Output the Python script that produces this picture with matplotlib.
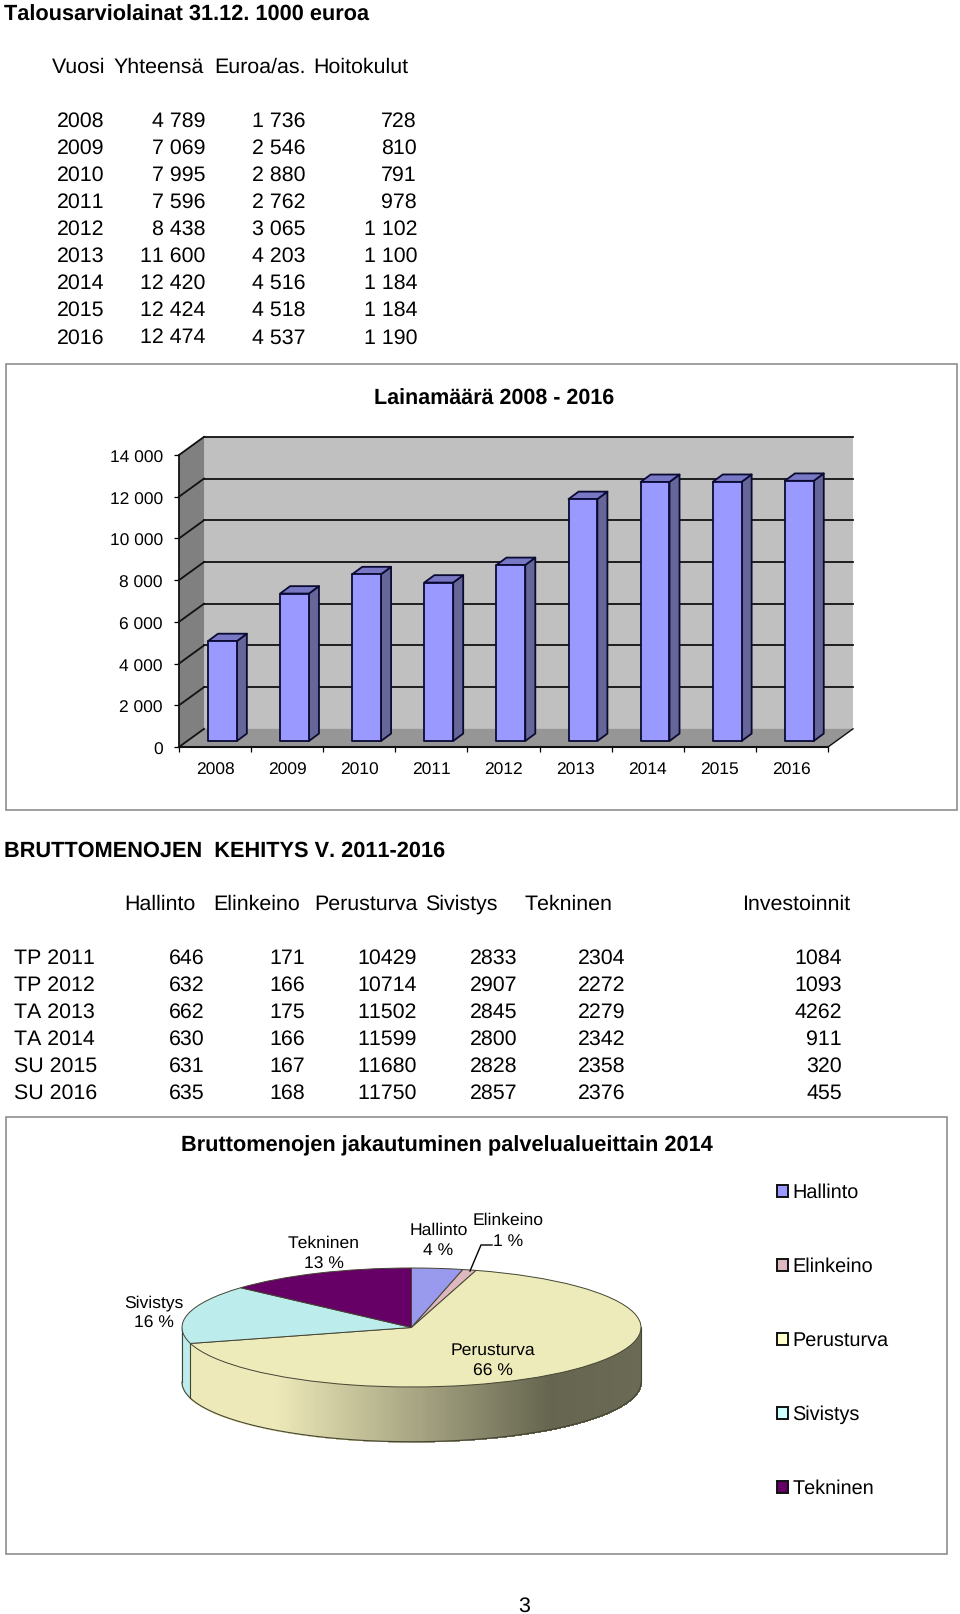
import matplotlib
matplotlib.use('Agg')
import matplotlib.pyplot as plt
import numpy as np
from matplotlib.colors import LinearSegmentedColormap
from matplotlib.patches import Patch, Polygon, Rectangle
from matplotlib.transforms import ScaledTranslation

W, H = 960, 1614
plt.rcParams['font.family'] = ['Liberation Sans', 'DejaVu Sans']
plt.rcParams['text.kerning_factor'] = 6
plt.rcParams['text.hinting'] = 'no_hinting'

# loan table
years = [2008, 2009, 2010, 2011, 2012, 2013, 2014, 2015, 2016]
yhteensa = [4789, 7069, 7995, 7596, 8438, 11600, 12420, 12424, 12474]
euroa_as = [1736, 2546, 2880, 2762, 3065, 4203, 4516, 4518, 4537]
hoitokulut = [728, 810, 791, 978, 1102, 1100, 1184, 1184, 1190]

# expense table
rows = ['TP 2011', 'TP 2012', 'TA 2013', 'TA 2014', 'SU 2015', 'SU 2016']
hallinto = [646, 632, 662, 630, 631, 635]
elinkeino = [171, 166, 175, 166, 167, 168]
perusturva = [10429, 10714, 11502, 11599, 11680, 11750]
sivistys = [2833, 2907, 2845, 2800, 2828, 2857]
tekninen = [2304, 2272, 2279, 2342, 2358, 2376]
investoinnit = [1084, 1093, 4262, 911, 320, 455]

# pie uses the TA 2014 row
pie_names = ['Hallinto', 'Elinkeino', 'Perusturva', 'Sivistys', 'Tekninen']
pie_values = [630, 166, 11599, 2800, 2342]
pie_colors = ['#9999EE', '#DDB8BE', '#EEEBBB', '#BCECEC', '#660066']
pie_labels = ['Hallinto\n4 %', 'Elinkeino\n1 %', 'Perusturva\n66 %', 'Sivistys\n16 %', 'Tekninen\n13 %']


def spaced(v):
    return f'{v:,}'.replace(',', ' ')


def axes_px(left, top, right, bottom):
    return fig.add_axes([left / W, 1 - bottom / H, (right - left) / W, (bottom - top) / H])


fig = plt.figure(figsize=(W / 100, H / 100), dpi=100)

# page layer, pixel coordinates
page = fig.add_axes([0, 0, 1, 1])
page.set_xlim(0, W)
page.set_ylim(H, 0)
page.axis('off')

TXT = 15.4


def put(x, y, s, ha='left', size=TXT, weight='normal'):
    page.text(x, y + 1.5, s, ha=ha, va='center', fontsize=size, fontweight=weight, color='black', linespacing=1.0)


put(4, 13.5, 'Talousarviolainat 31.12. 1000 euroa', weight='bold', size=15.7)
put(52, 66, 'Vuosi')
put(114, 66, 'Yhteensä')
put(214, 66, 'Euroa/as.')
put(313, 66, 'Hoitokulut')
for i in range(len(years)):
    y = 120 + i * 27.05
    put(104, y, str(years[i]), ha='right')
    put(205, y, spaced(yhteensa[i]), ha='right')
    put(305, y, spaced(euroa_as[i]), ha='right')
    put(417, y, spaced(hoitokulut[i]), ha='right')

put(4, 849.5, 'BRUTTOMENOJEN  KEHITYS V. 2011-2016', weight='bold', size=15.7)
for x, s in zip([124, 213, 314, 425, 525, 742],
                ['Hallinto', 'Elinkeino', 'Perusturva', 'Sivistys', 'Tekninen', 'Investoinnit']):
    put(x, 903, s)
for i in range(len(rows)):
    y = 957 + i * 27.05
    put(14, y, rows[i])
    put(205, y, str(hallinto[i]), ha='right')
    put(305, y, str(elinkeino[i]), ha='right')
    put(417, y, str(perusturva[i]), ha='right')
    put(517, y, str(sivistys[i]), ha='right')
    put(625, y, str(tekninen[i]), ha='right')
    put(842, y, str(investoinnit[i]), ha='right')

put(524, 1604.5, '3', ha='center')

# chart frames
for x0, y0, x1, y1 in [(5.5, 364, 956.5, 810), (5.5, 1116.5, 946.5, 1554)]:
    page.add_patch(Rectangle((x0, y0), x1 - x0, y1 - y0, fc='white', ec='#858585', lw=1.1))

put(494, 397.5, 'Lainamäärä 2008 - 2016', ha='center', size=15.5, weight='bold')

# 3d looking column chart, axes is the front plane
ax = axes_px(179, 455, 828, 747)
ax.patch.set_alpha(0)
ax.set_xlim(-0.5, 8.5)
ax.set_ylim(0, 14000)
for s in ax.spines.values():
    s.set_visible(False)

DX = 0.347
DY = 870
y_ticks = np.arange(0, 14001, 2000)
x_l, x_r = -0.5, 8.5
ax.add_patch(Polygon([(x_l + DX, DY), (x_r + DX, DY), (x_r + DX, 14000 + DY), (x_l + DX, 14000 + DY)],
                     fc='#C0C0C0', ec='none', clip_on=False, zorder=1))
ax.add_patch(Polygon([(x_l, 0), (x_l, 14000), (x_l + DX, 14000 + DY), (x_l + DX, DY)],
                     fc='#808080', ec='none', clip_on=False, zorder=1))
ax.add_patch(Polygon([(x_l, 0), (x_r, 0), (x_r + DX, DY), (x_l + DX, DY)],
                     fc='#969696', ec='none', clip_on=False, zorder=1))
for t in y_ticks:
    ax.plot([x_l, x_l + DX], [t, t + DY], color='#111111', lw=1.3, clip_on=False, zorder=2)
    if t > 0:
        ax.plot([x_l + DX, x_r + DX], [t + DY, t + DY], color='#111111', lw=1.3, clip_on=False, zorder=2)
ax.plot([x_l, x_l], [0, 14000], color='#111111', lw=1.3, clip_on=False, zorder=2)
ax.plot([x_l, x_r], [0, 0], color='#111111', lw=1.5, clip_on=False, zorder=5)
ax.plot([x_r, x_r + DX], [0, DY], color='#111111', lw=1.0, clip_on=False, zorder=2)

BAR_W = 0.4
BAR_D = 0.139
BAR_H = 355
BASE = 288
for i, v in enumerate(yhteensa):
    l = i - 0.098
    r = l + BAR_W
    top = BASE + v
    edge = dict(ec='#0A0A33', lw=1.3, clip_on=False, zorder=4, joinstyle='round')
    ax.add_patch(Polygon([(r, BASE), (r + BAR_D, BASE + BAR_H), (r + BAR_D, top + BAR_H), (r, top)], fc='#666699', **edge))
    ax.add_patch(Polygon([(l, top), (r, top), (r + BAR_D, top + BAR_H), (l + BAR_D, top + BAR_H)], fc='#7878C4', **edge))
    ax.add_patch(Polygon([(l, BASE), (r, BASE), (r, top), (l, top)], fc='#9999FF', **edge))

ax.set_yticks(y_ticks)
ax.set_yticklabels([spaced(int(t)) for t in y_ticks], fontsize=12.5)
ax.set_xticks(np.arange(-0.5, 8.6, 1))
ax.set_xticklabels([])
ax.set_xticks(range(len(years)), [str(y) for y in years], minor=True, fontsize=12.5)
ax.tick_params(axis='y', length=3.6, width=0.9, pad=8)
ax.tick_params(axis='x', which='major', length=3.6, width=0.9)
ax.tick_params(axis='x', which='minor', length=0, pad=11.5)
# tick labels sit a little lower in the original
nudge = ScaledTranslation(0, -1.2 / 72, fig.dpi_scale_trans)
for lab in ax.get_yticklabels():
    lab.set_transform(lab.get_transform() + nudge)

put(447, 1144, 'Bruttomenojen jakautuminen palvelualueittain 2014', ha='center', size=15.7, weight='bold')

# pie, axes squeezed so the circle turns into a flat ellipse
pax = axes_px(182, 1268, 641, 1387)
wedges, _ = pax.pie(pie_values, colors=pie_colors, startangle=90, counterclock=False, radius=1,
                    wedgeprops=dict(edgecolor='#444433', linewidth=0.7, clip_on=False, zorder=5))
pax.set_aspect('auto')
pax.set_xlim(-1, 1)
pax.set_ylim(-1, 1)

RIM = 0.92
shade = LinearSegmentedColormap.from_list('rim', [(0, '#EDE9B9'), (0.2, '#EDE9B9'), (0.8, '#666650'), (1, '#6B6B55')])
shares = np.cumsum(pie_values) / np.sum(pie_values) * 2 * np.pi
a1 = shares[2]
steps = np.linspace(np.pi / 2, a1, 300)
for p, q in zip(steps[:-1], steps[1:]):
    c = shade((np.sin(p) + 1) / 2)
    xs = [np.sin(p), np.sin(q), np.sin(q), np.sin(p)]
    ys = [np.cos(p), np.cos(q), np.cos(q) - RIM, np.cos(p) - RIM]
    pax.fill(xs, ys, color=c, lw=0.8, antialiased=False, clip_on=False, zorder=2)
steps2 = np.linspace(a1, 1.5 * np.pi, 20)
xs = np.r_[np.sin(steps2), np.sin(steps2[::-1])]
ys = np.r_[np.cos(steps2), np.cos(steps2[::-1]) - RIM]
pax.fill(xs, ys, color='#BCECEC', lw=0.6, clip_on=False, zorder=2)
# rim outline
arc = np.linspace(np.pi / 2, 1.5 * np.pi, 200)
pax.plot(np.sin(arc), np.cos(arc) - RIM, color='#444433', lw=0.8, clip_on=False, zorder=3)
for a in [np.pi / 2, a1, 1.5 * np.pi]:
    pax.plot([np.sin(a), np.sin(a)], [np.cos(a), np.cos(a) - RIM], color='#444433', lw=0.8, clip_on=False, zorder=3)

page2 = fig.add_axes([0, 0, 1, 1], sharex=page, sharey=page)
page2.axis('off')
label_xy = [(438.5, 1240.5), (508.5, 1231), (493, 1361), (153.5, 1313.5), (324, 1254)]
for (x, y), s in zip(label_xy, pie_labels):
    page2.text(x, y, s, ha='center', va='center', fontsize=12.6, linespacing=1.36, color='black')
page2.plot([470, 481, 492], [1271, 1245, 1245], color='black', lw=1.0)

handles = [Patch(fc=c, ec='#111111', lw=1.4) for c in ['#9999FF', '#DDB8BE', '#FFFFCC', '#CCFFFF', '#660066']]
page2.legend(handles, pie_names, loc='upper left', bbox_to_anchor=(769 / W, 1 - 1175.5 / H), bbox_transform=fig.transFigure,
             frameon=False, fontsize=14.3, handlelength=0.55, handleheight=0.55, handletextpad=0.22,
             labelspacing=2.79, borderpad=0.4, borderaxespad=0)

fig.savefig('out.png', dpi=100)
